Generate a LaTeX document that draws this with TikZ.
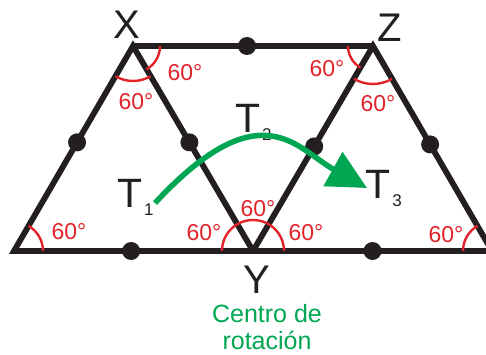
\documentclass[tikz,border=0pt]{standalone}
\usepackage{fontspec}
\setmainfont{Liberation Sans}
\usetikzlibrary{calc,arrows.meta}
\definecolor{rgreen}{RGB}{0,166,81}
\definecolor{rred}{RGB}{226,35,41}
\definecolor{rblack}{RGB}{35,31,32}
\newcommand\tsubscr[1]{\kern2pt\raisebox{-8pt}{\fontsize{17}{17}\selectfont #1}}
\begin{document}
\begin{tikzpicture}[x=1pt,y=1pt,
  edge/.style={line width=5.8pt, draw=rblack},
  dotnode/.style={circle, fill=rblack, inner sep=0pt, minimum size=18pt},
  anglearc/.style={draw=rred, line width=2.4pt},
  anglab/.style={text=rred, font=\fontsize{23}{23}\selectfont, inner sep=0pt},
  vlab/.style={font=\fontsize{40}{40}\selectfont, inner sep=0pt, text=rblack},
  tlab/.style={font=\fontsize{41}{41}\selectfont, inner sep=0pt, anchor=base west, text=rblack},
  rotarrow/.style={line width=5.5pt, draw=rgreen, -{Triangle[length=39pt,width=38pt]}}]
\clip (0,0) rectangle (486,354);
% vertices
\coordinate (BL) at (14,103);
\coordinate (X) at (133,308);
\coordinate (Y) at (253,103);
\coordinate (Z) at (373,308);
\coordinate (BR) at (492,103);
% edges
\draw[edge] (BL) -- (X) -- (Y) -- cycle;
\draw[edge] (Y) -- (Z) -- (BR) -- cycle;
\draw[edge] (X) -- (Z);
% midpoint dots
\node[dotnode] (d1) at ($(BL)!0.53!(X)$) {};
\node[dotnode] (d2) at ($(X)!0.47!(Y)$) {};
\node[dotnode] (d3) at ($(Z)!0.49!(Y)$) {};
\node[dotnode] (d4) at ($(Z)!0.48!(BR)$) {};
\node[dotnode] (d5) at ($(BL)!0.49!(Y)$) {};
\node[dotnode] (d6) at ($(Y)!0.5!(BR)$) {};
\node[dotnode] (d7) at ($(X)!0.475!(Z)$) {};
% angle arcs
\draw[anglearc] ($(BL)+(0:29)$) arc[start angle=0, end angle=60, radius=29];
\draw[anglearc] ($(X)+(240:35)$) arc[start angle=240, end angle=300, radius=35];
\draw[anglearc] ($(X)+(300:27)$) arc[start angle=300, end angle=360, radius=27];
\draw[anglearc] ($(Y)+(0:31)$) arc[start angle=0, end angle=180, radius=31];
\draw[anglearc] ($(Z)+(180:25)$) arc[start angle=180, end angle=240, radius=25];
\draw[anglearc] ($(Z)+(240:38)$) arc[start angle=240, end angle=300, radius=38];
\draw[anglearc] ($(BR)+(120:29)$) arc[start angle=120, end angle=180, radius=29];
% angle labels
\node[anglab] (a1) at (69,122) {60°};
\node[anglab] (a2) at (185,281) {60°};
\node[anglab] (a3) at (136,252) {60°};
\node[anglab] (a4) at (204,121) {60°};
\node[anglab] (a5) at (258,145) {60°};
\node[anglab] (a6) at (306,121) {60°};
\node[anglab] (a7) at (327,285) {60°};
\node[anglab] (a8) at (378,250) {60°};
\node[anglab] (a9) at (446,119) {60°};
% vertex labels
\node[vlab] (lx) at (127,329) {X};
\node[vlab] (lz) at (390,326) {Z};
\node[vlab] (ly) at (257,74) {Y};
% triangle labels
\node[tlab] (t1) at (117,147) {T\tsubscr{1}};
\node[tlab] (t2) at (235,222) {T\tsubscr{2}};
\node[tlab] (t3) at (365,156) {T\tsubscr{3}};
% rotation arrow
\coordinate (A1) at (155,151);
\coordinate (A2) at (367,166);
\draw[rotarrow] (A1) .. controls (261,265) and (297,205) .. (A2);
% centre label
\node[text=rgreen, font=\fontsize{25}{27}\selectfont, align=center, inner sep=0pt, anchor=center] (cr) at (267,27) {Centro de\\rotación};
\end{tikzpicture}
\end{document}
